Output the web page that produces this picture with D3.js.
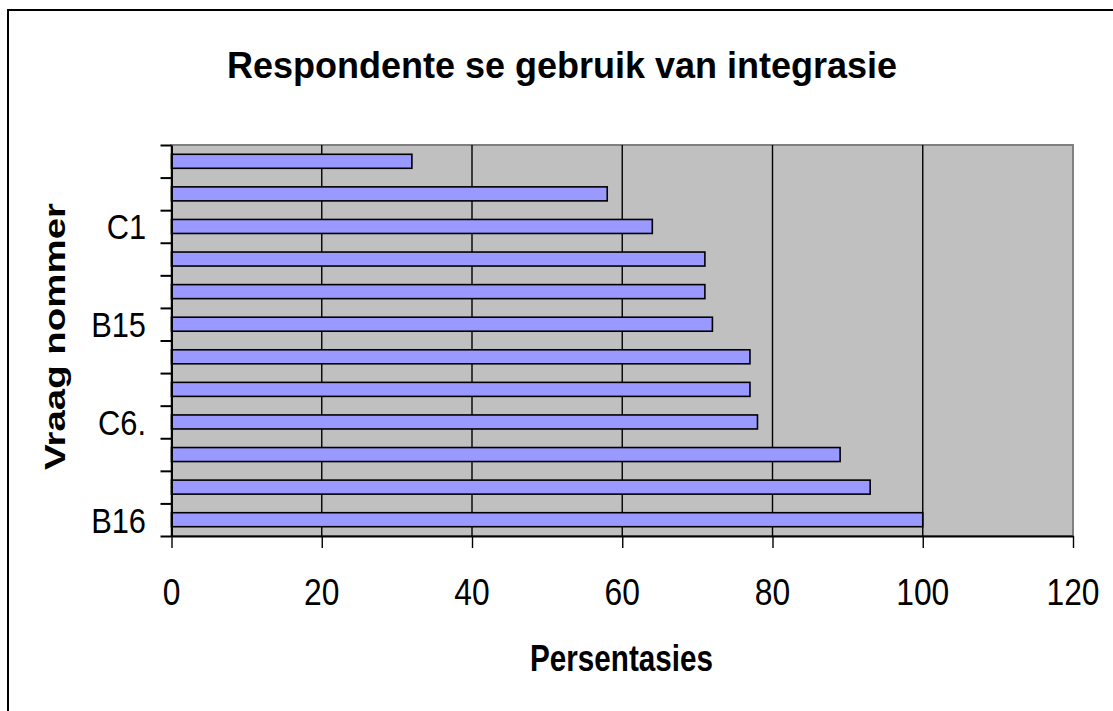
<!DOCTYPE html>
<html>
<head>
<meta charset="utf-8">
<script src="https://cdn.jsdelivr.net/npm/d3@7"></script>
<style>
  html, body { margin: 0; padding: 0; background: #fff; }
  svg { display: block; }
  text { font-family: "Liberation Sans", Arial, sans-serif; fill: #000; }
</style>
</head>
<body>
<svg id="chart" width="1113" height="711"></svg>
<script>
// Question labels, listed from the bottom bar to the top bar (only every third is labelled)
const questionLabels = ["B16", "", "", "C6.", "", "", "B15", "", "", "C1", "", ""];
// Percentage of respondents per question, same order
const percentages = [100, 93, 89, 78, 77, 77, 72, 71, 71, 64, 58, 32];
// Value-axis tick values
const xTicks = [0, 20, 40, 60, 80, 100, 120];

const chartTitle = "Respondente se gebruik van integrasie";
const xTitle = "Persentasies";
const yTitle = "Vraag nommer";

const svg = d3.select("#chart");
const plot = { left: 171.5, right: 1073, top: 145, bottom: 536 };

// Outer chart frame
svg.append("rect")
  .attr("x", 8).attr("y", 10)
  .attr("width", 1200).attr("height", 800)
  .attr("fill", "#fff").attr("stroke", "#000").attr("stroke-width", 2);

const x = d3.scaleLinear().domain([0, 120]).range([plot.left, plot.right]);
const idx = d3.range(percentages.length);
const y = d3.scaleBand().domain(idx).range([plot.bottom, plot.top])
  .paddingInner(0.57).paddingOuter(0.285);
const yEdges = d3.scaleLinear().domain([0, percentages.length]).range([plot.bottom, plot.top]);

// Plot area background with grey frame
svg.append("rect")
  .attr("x", plot.left).attr("y", plot.top)
  .attr("width", plot.right - plot.left).attr("height", plot.bottom - plot.top)
  .attr("fill", "#c0c0c0").attr("stroke", "#808080").attr("stroke-width", 2);

// Vertical gridlines
svg.append("g").selectAll("line")
  .data(xTicks.filter(t => t > 0 && t < 120))
  .join("line")
  .attr("x1", d => x(d)).attr("x2", d => x(d))
  .attr("y1", plot.top).attr("y2", plot.bottom)
  .attr("stroke", "#000").attr("stroke-width", 1.4);

// Bars
svg.append("g").selectAll("rect")
  .data(idx)
  .join("rect")
  .attr("x", x(0))
  .attr("y", i => y(i))
  .attr("width", i => x(percentages[i]) - x(0))
  .attr("height", y.bandwidth())
  .attr("fill", "#9999ff")
  .attr("stroke", "#000").attr("stroke-width", 1.6);

// Bottom axis line and ticks
const xAxis = svg.append("g")
  .attr("transform", `translate(0,${plot.bottom})`)
  .call(d3.axisBottom(x).tickValues(xTicks).tickSize(12).tickSizeOuter(0).tickFormat(""));
xAxis.select(".domain").attr("stroke", "#000").attr("stroke-width", 2);
xAxis.selectAll(".tick line").attr("stroke", "#000").attr("stroke-width", 1.4);

// Left axis line and ticks between categories
const yAxis = svg.append("g")
  .attr("transform", `translate(${plot.left},0)`)
  .call(d3.axisLeft(yEdges).tickValues(d3.range(percentages.length + 1)).tickSize(11).tickSizeOuter(0).tickFormat(""));
yAxis.select(".domain").attr("stroke", "#000").attr("stroke-width", 2);
yAxis.selectAll(".tick line").attr("stroke", "#000").attr("stroke-width", 2);

// Value tick labels
svg.append("g").selectAll("text")
  .data(xTicks)
  .join("text")
  .attr("transform", d => `translate(${x(d)},605) scale(0.86,1)`)
  .attr("text-anchor", "middle")
  .attr("font-size", 37)
  .text(d => d);

// Category labels
svg.append("g").selectAll("text")
  .data(idx.filter(i => questionLabels[i] !== ""))
  .join("text")
  .attr("transform", i => `translate(146,${y(i) + y.bandwidth() / 2 + 13}) scale(0.88,1)`)
  .attr("text-anchor", "end")
  .attr("font-size", 35)
  .text(i => questionLabels[i]);

// Titles
svg.append("text")
  .attr("x", 227).attr("y", 78)
  .attr("font-size", 37.5).attr("font-weight", "bold")
  .attr("textLength", 670).attr("lengthAdjust", "spacingAndGlyphs")
  .text(chartTitle);

svg.append("text")
  .attr("x", 530).attr("y", 671)
  .attr("font-size", 36.5).attr("font-weight", "bold")
  .attr("textLength", 183).attr("lengthAdjust", "spacingAndGlyphs")
  .text(xTitle);

svg.append("text")
  .attr("transform", "translate(65,470) rotate(-90)")
  .attr("font-size", 30).attr("font-weight", "bold")
  .attr("textLength", 267).attr("lengthAdjust", "spacingAndGlyphs")
  .text(yTitle);
</script>
</body>
</html>
